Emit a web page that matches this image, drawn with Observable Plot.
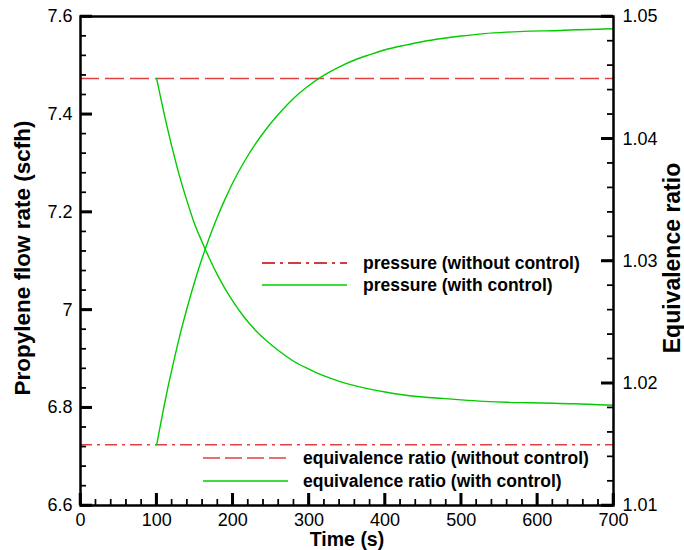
<!DOCTYPE html>
<html><head><meta charset="utf-8">
<script src="https://cdn.jsdelivr.net/npm/d3@7"></script>
<script src="https://cdn.jsdelivr.net/npm/@observablehq/plot@0.6"></script>
<style>
body{margin:0;background:#fff;}
#chart{position:relative;width:684px;height:550px;}
#chart svg{font-family:'Liberation Sans', Arial, Helvetica, sans-serif;}
#overlay{position:absolute;left:0;top:0;pointer-events:none;}
</style></head><body><div id="chart"></div>
<script>
// ---- data ----
const timeRise = [100, 105, 110, 115, 120, 130, 140, 150, 160, 170, 180, 190, 200, 215, 230, 245, 260, 280, 300, 320, 340, 360, 380, 400, 425, 450, 475, 500, 530, 560, 590, 620, 650, 680, 700];
const flowWithControl = [6.724, 6.765, 6.805, 6.843, 6.878, 6.945, 7.004, 7.058, 7.107, 7.151, 7.191, 7.227, 7.260, 7.303, 7.340, 7.372, 7.400, 7.433, 7.459, 7.480, 7.497, 7.511, 7.522, 7.532, 7.541, 7.549, 7.555, 7.560, 7.565, 7.568, 7.570, 7.571, 7.573, 7.574, 7.575];
const timeFall = [100, 105, 110, 115, 120, 130, 140, 150, 160, 170, 180, 190, 200, 215, 230, 245, 260, 280, 300, 320, 340, 360, 380, 400, 425, 450, 475, 500, 530, 560, 590, 620, 650, 680, 700];
const eqWithControl = [1.04492, 1.04344, 1.042, 1.04064, 1.03936, 1.03696, 1.03488, 1.033, 1.03152, 1.03012, 1.02884, 1.02772, 1.02672, 1.0254, 1.02432, 1.02344, 1.02268, 1.0218, 1.02116, 1.0206, 1.02016, 1.0198, 1.01952, 1.01928, 1.01904, 1.01888, 1.01876, 1.01864, 1.01852, 1.01844, 1.0184, 1.01836, 1.01832, 1.01824, 1.0182];
const timeSpan = [0, 700];
const flowWithoutControl = 6.724;
const eqWithoutControl = 1.04492;
const xTicks = [0, 100, 200, 300, 400, 500, 600, 700];
const xTickLabels = ["0", "100", "200", "300", "400", "500", "600", "700"];
const yLeftTicks = [6.6, 6.8, 7.0, 7.2, 7.4, 7.6];
const yLeftLabels = ["6.6", "6.8", "7", "7.2", "7.4", "7.6"];
const yRightTicks = [1.01, 1.02, 1.03, 1.04, 1.05];
const yRightLabels = ["1.01", "1.02", "1.03", "1.04", "1.05"];
const legendTop = ["pressure (without control)", "pressure (with control)"];
const legendBottom = ["equivalence ratio (without control)", "equivalence ratio (with control)"];

// ---- layout / styling ----
const W = 684, H = 550, ML = 80, MR = 71, MT = 16, MB = 45;
const FW = W - ML - MR, FH = H - MT - MB;
const GREEN = "#00cc00", RED = "#e04040", DARKRED = "#c00000", INK = "black";
const FONT = "'Liberation Sans', Arial, Helvetica, sans-serif";
const leftDomain = [6.6, 7.6], rightDomain = [1.01, 1.05];
const toLeft = e => leftDomain[0] + (e - rightDomain[0]) * (leftDomain[1] - leftDomain[0]) / (rightDomain[1] - rightDomain[0]);

const xMinor = d3.range(0, 701, 20);
const yLeftMinor = d3.range(0, 26).map(i => 6.6 + i * 0.04);
const yRightMinor = d3.range(0, 21).map(i => toLeft(1.01 + i * 0.002));

const rise = timeRise.map((t, i) => ({t, v: flowWithControl[i]}));
const fall = timeFall.map((t, i) => ({t, v: toLeft(eqWithControl[i])}));
const TICKFS = 18, MINOR = 6, MAJOR = 12;

const plot = Plot.plot({
  width: W, height: H,
  marginLeft: ML, marginRight: MR, marginTop: MT, marginBottom: MB,
  x: {domain: timeSpan},
  y: {domain: leftDomain},
  marks: [
    Plot.ruleY([flowWithoutControl], {stroke: RED, strokeWidth: 1.5, strokeDasharray: "12,5,3,5"}),
    Plot.ruleY([toLeft(eqWithoutControl)], {stroke: RED, strokeWidth: 1.5, strokeDasharray: "19,6"}),
    Plot.line(rise, {x: "t", y: "v", stroke: GREEN, strokeWidth: 1.4, curve: "monotone-x"}),
    Plot.line(fall, {x: "t", y: "v", stroke: GREEN, strokeWidth: 1.4, curve: "monotone-x"}),
    // inward minor ticks
    Plot.tickX(xMinor, {x: d => d, insetTop: FH - MINOR, stroke: INK, strokeWidth: 1.2}),
    Plot.tickY(yLeftMinor, {y: d => d, insetRight: FW - MINOR, stroke: INK, strokeWidth: 1.2}),
    Plot.tickY(yRightMinor, {y: d => d, insetLeft: FW - MINOR, stroke: INK, strokeWidth: 1.2}),
    // inward major ticks
    Plot.tickX(xTicks, {x: d => d, insetTop: FH - MAJOR, stroke: INK, strokeWidth: 2.5}),
    Plot.tickY(yLeftTicks, {y: d => d, insetRight: FW - MAJOR, stroke: INK, strokeWidth: 2.5}),
    Plot.tickY(yRightTicks.map(toLeft), {y: d => d, insetLeft: FW - MAJOR, stroke: INK, strokeWidth: 2.5}),
    // tick labels
    Plot.axisX(xTicks, {anchor: "bottom", tickSize: 0, tickPadding: 8, fontSize: TICKFS, fill: INK, tickFormat: (d, i) => xTickLabels[i], label: null}),
    Plot.axisY(yLeftTicks, {anchor: "left", tickSize: 0, tickPadding: 8, fontSize: TICKFS, fill: INK, tickFormat: (d, i) => yLeftLabels[i], label: null}),
    Plot.axisY(yRightTicks.map(toLeft), {anchor: "right", tickSize: 0, tickPadding: 9, fontSize: TICKFS, fill: INK, tickFormat: (d, i) => yRightLabels[i], label: null}),
    Plot.frame({stroke: INK, strokeWidth: 2.5}),
    // axis titles
    Plot.text(["Time (s)"], {text: d => d, frameAnchor: "bottom", dy: 34, fontWeight: "bold", fontSize: 19.5, fill: INK, textAnchor: "middle", lineAnchor: "middle"}),
    Plot.text(["Propylene flow rate (scfh)"], {text: d => d, frameAnchor: "left", dx: -58, dy: -3, rotate: -90, fontWeight: "bold", fontSize: 22.5, fill: INK, textAnchor: "middle", lineAnchor: "middle"}),
    Plot.text(["Equivalence ratio"], {text: d => d, frameAnchor: "right", dx: 59, dy: -3, rotate: -90, fontWeight: "bold", fontSize: 23, fill: INK, textAnchor: "middle", lineAnchor: "middle"})
  ]
});
const chart = document.getElementById("chart");
chart.appendChild(plot);

// ---- overlay: inward ticks again (positions from Plot's scales), and in-plot legends ----
const xs = plot.scale("x"), ys = plot.scale("y");
const fx0 = ML, fx1 = W - MR, fy1 = H - MB;
const svg = d3.select(chart).append("svg").attr("id", "overlay").attr("width", W).attr("height", H);
const tickSpecs = [];
for (const v of xMinor) tickSpecs.push({x1: xs.apply(v), x2: xs.apply(v), y1: fy1, y2: fy1 - MINOR, w: 1.2});
for (const v of yLeftMinor) tickSpecs.push({x1: fx0, x2: fx0 + MINOR, y1: ys.apply(v), y2: ys.apply(v), w: 1.2});
for (const v of yRightMinor) tickSpecs.push({x1: fx1, x2: fx1 - MINOR, y1: ys.apply(v), y2: ys.apply(v), w: 1.2});
for (const v of xTicks) tickSpecs.push({x1: xs.apply(v), x2: xs.apply(v), y1: fy1, y2: fy1 - MAJOR, w: 2.5});
for (const v of yLeftTicks) tickSpecs.push({x1: fx0, x2: fx0 + MAJOR, y1: ys.apply(v), y2: ys.apply(v), w: 2.5});
for (const v of yRightTicks.map(toLeft)) tickSpecs.push({x1: fx1, x2: fx1 - MAJOR, y1: ys.apply(v), y2: ys.apply(v), w: 2.5});
svg.append("g").selectAll("line").data(tickSpecs).join("line")
  .attr("x1", d => d.x1).attr("x2", d => d.x2).attr("y1", d => d.y1).attr("y2", d => d.y2)
  .attr("stroke", "#000000").attr("stroke-width", d => d.w);

const entries = [
  {label: legendTop[0], color: DARKRED, dash: "13,5,3,5", x1: 262, x2: 347, y: 263, tx: 363},
  {label: legendTop[1], color: GREEN, dash: null, x1: 262, x2: 347, y: 285, tx: 363},
  {label: legendBottom[0], color: RED, dash: "17,5", x1: 203, x2: 288, y: 458, tx: 303},
  {label: legendBottom[1], color: GREEN, dash: null, x1: 203, x2: 288, y: 481, tx: 303}
];
const g = svg.append("g").selectAll("g").data(entries).join("g");
g.append("line").attr("x1", d => d.x1).attr("x2", d => d.x2).attr("y1", d => d.y).attr("y2", d => d.y)
  .attr("stroke", d => d.color).attr("stroke-width", 1.3).attr("stroke-dasharray", d => d.dash);
g.append("text").attr("x", d => d.tx).attr("y", d => d.y).attr("dy", "0.35em")
  .attr("font-family", FONT).attr("font-size", 17.5).attr("font-weight", "bold").text(d => d.label);
</script></body></html>
